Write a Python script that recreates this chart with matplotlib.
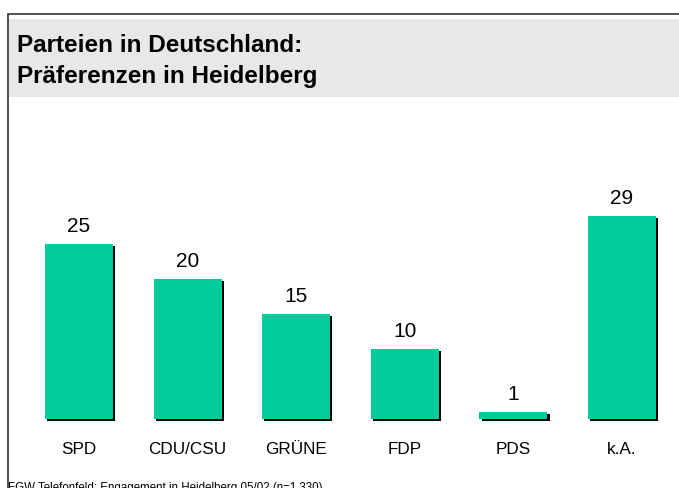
import matplotlib
matplotlib.use("Agg")
import matplotlib.pyplot as plt
from matplotlib.patches import Rectangle
import matplotlib.transforms as mtransforms

categories = ["SPD", "CDU/CSU", "GRÜNE", "FDP", "PDS", "k.A."]
values = [25, 20, 15, 10, 1, 29]
title_lines = ["Parteien in Deutschland:", "Präferenzen in Heidelberg"]
footer = "FGW Telefonfeld: Engagement in Heidelberg 05/02 (n=1.330)"

plt.rcParams['font.family'] = ['Liberation Sans', 'DejaVu Sans']

W, H = 679, 488
fig = plt.figure(figsize=(W / 100, H / 100), dpi=100)
fig.patch.set_facecolor("white")

def fx(px):
    return px / W

def fy(py):
    return 1 - py / H

# frame (top and left edges visible)
fig.add_artist(Rectangle((fx(7.5), fy(700)), fx(800), (700 - 14) / H,
                         transform=fig.transFigure, fill=False, lw=1.2, ec="#333333"))
# grey header band
fig.add_artist(Rectangle((fx(9), fy(97)), fx(680), (97 - 19) / H,
                         transform=fig.transFigure, fc="#E8E8E8", ec="none"))
fig.text(fx(17), fy(46), title_lines[0], fontsize=17.5, fontweight="bold", va="center", ha="left")
fig.text(fx(17), fy(76), title_lines[1], fontsize=17.5, fontweight="bold", va="center", ha="left")

# axes: centers at 79 + 108.6*i, baseline y=419, 7 px per unit
left = 79 - 54.3
ax = fig.add_axes([fx(left), fy(419), fx(6 * 108.6), 210 / H])
ax.set_xlim(-0.5, 5.5)
ax.set_ylim(0, 30)
ax.axis("off")

x = list(range(len(categories)))
bw = 68 / 108.6
shadow = ax.transData + mtransforms.ScaledTranslation(2.2 / 100, -2.2 / 100, fig.dpi_scale_trans)
sb = ax.bar(x, values, width=bw, color="black", zorder=1)
for r in sb:
    r.set_transform(shadow)
    r.set_clip_on(False)
bars = ax.bar(x, values, width=bw, color="#00CC99", zorder=2)
for r in bars:
    r.set_clip_on(False)

for xi, v in zip(x, values):
    ax.annotate(str(v), (xi, v), xytext=(0, 5.5), textcoords="offset points",
                ha="center", va="bottom", fontsize=15, annotation_clip=False)
for xi, c in zip(x, categories):
    ax.annotate(c, (xi, 0), xytext=(0, -(449 - 419) * 0.72), textcoords="offset points",
                ha="center", va="center", fontsize=12.3, annotation_clip=False)

fig.text(fx(8), fy(482.5), footer, fontsize=8.3, va="top", ha="left")

fig.savefig("out.png", dpi=100)
